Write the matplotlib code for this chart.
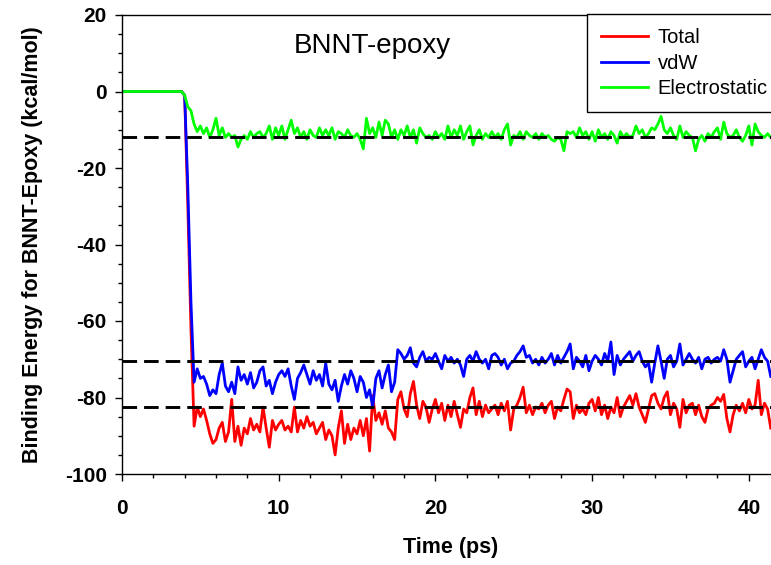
import numpy as np
import matplotlib
matplotlib.use("Agg")
import matplotlib.pyplot as plt
from matplotlib.ticker import MultipleLocator

plt.rcParams['font.family'] = ['Liberation Sans', 'DejaVu Sans']
plt.rcParams['axes.unicode_minus'] = False

t_step = 0.2  # ps between samples

total = [
    0, 0, 0, 0, 0, 0, 0, 0, 0, 0,
    0, 0, 0, 0, 0, 0, 0, 0, 0, 0,
    -1.0, -30.0, -62.0, -87.5, -82.5,
    -85.0, -83.0, -86.0, -89.5, -92.0, -91.0, -88.0, -86.5, -91.5, -89.0,
    -80.5, -91.5, -87.5, -92.5, -88.0, -89.5, -85.5, -88.5, -87.0, -89.0,
    -82.5, -88.0, -93.0, -86.0, -88.5, -87.0, -86.0, -88.5, -87.5, -89.0,
    -82.5, -89.0, -86.0, -88.0, -85.0, -87.5, -86.5, -89.5, -88.0, -86.5,
    -91.0, -88.5, -90.0, -95.0, -88.0, -83.5, -92.0, -87.0, -91.0, -88.0,
    -89.5, -86.0, -90.0, -85.5, -94.0, -79.5, -86.0, -84.0, -87.0, -83.5,
    -88.0, -89.0, -91.0,
    -80.5, -78.5, -83.0, -85.0, -79.0, -75.8, -82.0, -85.5, -81.0, -82.5,
    -86.5, -83.0, -80.5, -84.0, -81.5, -86.0, -82.0, -85.0, -81.0, -84.5,
    -87.8, -83.0, -84.0, -80.0, -77.5, -84.5, -81.0, -85.0, -82.0, -84.0,
    -83.0, -82.0, -84.5, -81.5, -83.5, -81.0, -88.5, -83.0, -82.0, -80.0,
    -77.3, -84.0, -82.0, -84.5, -82.5, -83.0, -81.5, -84.0, -82.0, -81.0,
    -85.5, -82.5, -83.5, -80.5, -77.8, -78.5, -85.5, -82.0, -84.0, -83.0,
    -84.5, -81.5, -80.5, -83.5, -80.0, -84.5, -82.0, -85.5, -82.5, -84.0,
    -80.0, -85.0, -82.5, -81.0, -79.5, -82.0, -79.0, -82.5, -84.5, -86.5,
    -83.0, -79.5, -79.0, -81.5, -83.0, -80.0, -78.5, -84.5, -81.5, -83.0,
    -87.8, -80.5, -84.0, -82.0, -81.5, -84.5, -82.0, -85.0, -86.5, -83.0,
    -82.0, -81.5, -80.0, -81.0, -79.2, -85.5, -89.0, -84.5, -82.0, -83.5,
    -81.5, -84.0, -80.5, -83.0, -82.0, -75.5, -84.5, -81.5, -83.0, -88.0,
]

vdw = [
    0, 0, 0, 0, 0, 0, 0, 0, 0, 0,
    0, 0, 0, 0, 0, 0, 0, 0, 0, 0,
    -1.0, -25.0, -55.0, -76.0, -72.5,
    -75.0, -74.5, -76.5, -79.5, -78.0, -79.0, -74.0, -71.0, -77.0, -78.5,
    -76.0, -79.0, -72.0, -75.5, -74.0, -76.5, -73.5, -77.5, -76.0, -73.0,
    -72.0, -77.0, -75.5, -79.0, -76.0, -74.0, -73.0, -74.5, -72.5, -77.0,
    -80.5, -75.0, -73.5, -71.5, -74.0, -76.5, -73.0, -75.5, -74.0, -77.0,
    -71.0, -76.5, -78.0, -75.5, -81.0, -77.0, -74.0, -76.5, -73.0, -75.0,
    -78.5, -74.5, -76.0, -80.0, -78.0, -82.5, -75.0, -73.0, -77.5, -74.0,
    -71.5, -78.5, -76.0,
    -67.5, -68.5, -70.0, -69.0, -67.0, -71.0, -72.0, -69.5, -68.0, -70.5,
    -69.5, -70.0, -68.5, -70.5, -72.5, -69.0, -70.5, -69.5, -71.0, -70.0,
    -71.5, -74.5, -70.0, -69.0, -70.5, -68.0, -70.0, -71.0, -70.0, -72.5,
    -69.0, -68.5, -69.5, -71.5, -70.0, -72.5, -71.0, -70.5, -69.0, -68.0,
    -66.5, -69.5, -69.0, -71.0, -70.0, -71.5, -69.5, -71.0, -70.0, -68.5,
    -71.5, -69.0, -71.0, -69.5, -68.0, -66.0, -72.5, -69.5, -70.5, -72.0,
    -69.0, -73.0, -70.5, -69.0, -70.0, -71.5, -68.5, -70.5, -65.5, -74.0,
    -69.0, -71.5, -70.0, -69.0, -68.0, -70.5, -69.0, -68.0, -70.5, -72.0,
    -71.0, -76.0, -71.0, -66.5, -70.5, -75.0, -70.0, -69.0, -72.0, -70.5,
    -66.0, -71.5, -70.0, -68.5, -70.0, -71.0, -69.5, -72.5, -70.0, -69.5,
    -71.0, -70.0, -69.5, -70.5, -67.5, -70.0, -76.0, -73.0, -70.0, -69.0,
    -68.0, -72.0, -70.5, -69.5, -72.5, -70.0, -67.5, -69.5, -70.5, -74.5,
]

electrostatic = [
    0, 0, 0, 0, 0, 0, 0, 0, 0, 0,
    0, 0, 0, 0, 0, 0, 0, 0, 0, 0,
    -1.0, -4.0, -5.0, -8.5, -10.5,
    -9.0, -11.0, -9.5, -12.0, -10.0, -7.0, -11.5, -9.5, -12.0, -11.0,
    -12.0, -11.5, -14.5, -12.5, -11.5, -12.5, -10.5, -12.0, -11.0, -10.5,
    -12.0, -11.0, -9.0, -12.5, -9.5, -11.5, -9.0, -12.5, -10.0, -7.5,
    -11.0, -9.5, -12.0, -10.5, -12.5, -10.0, -11.5, -12.0, -9.5, -11.5,
    -10.0, -11.5, -9.5, -12.5, -10.5, -11.0, -12.0, -10.0, -11.5, -12.0,
    -11.0, -12.5, -15.0, -7.0, -11.0, -9.5, -12.0, -8.0, -11.5, -7.5,
    -8.5, -12.0, -10.0,
    -12.5, -10.0, -11.5, -9.0, -12.0, -10.0, -13.5, -9.5, -11.0, -12.0,
    -11.5, -12.5, -10.5, -12.0, -11.0, -12.5, -9.0, -12.0, -10.0, -11.5,
    -9.0, -12.5, -10.5, -9.0, -14.0, -11.5, -10.0, -12.5, -11.0, -12.0,
    -10.5, -12.0, -11.0, -12.5, -10.0, -8.5, -14.0, -11.5, -12.0, -10.5,
    -12.5, -10.5, -11.5, -12.0, -11.0, -12.5, -11.0, -12.0, -11.5, -12.5,
    -13.0, -12.0, -12.5, -15.5, -10.5, -11.0, -10.5, -12.0, -9.5, -11.5,
    -10.5, -12.5, -10.5, -13.0, -10.0, -12.0, -11.0, -12.5, -10.5, -11.5,
    -13.5, -10.5, -12.0, -11.0, -12.0, -11.5, -9.0, -11.0, -10.0, -12.0,
    -11.0, -9.5, -10.0, -8.5, -6.5, -10.0, -11.0, -9.5, -11.5, -12.5,
    -9.0, -12.0, -10.5, -11.5, -12.0, -15.5, -12.5, -11.5, -13.0, -11.0,
    -12.0, -10.5, -9.5, -12.5, -8.0, -11.0, -12.0, -11.5, -10.0, -12.0,
    -13.0, -11.5, -9.0, -14.0, -8.5, -10.5, -11.5, -12.0, -11.0, -12.0,
]

series_labels = ["Total", "vdW", "Electrostatic"]
series_colors = ["#ff0000", "#0000ff", "#00ff00"]
reference_levels = [-12.0, -70.5, -82.5]

time = np.round(np.arange(len(total)) * t_step, 1)

W, H = 771, 565
fig = plt.figure(figsize=(W / 100, H / 100), dpi=100)
ax_left, ax_bottom_px, ax_top_px = 122, 474, 15
px_per_unit = 15.67
x_max = 44.0
ax = fig.add_axes([ax_left / W, 1 - ax_bottom_px / H,
                   x_max * px_per_unit / W, (ax_bottom_px - ax_top_px) / H])

for y, lab, col in zip([total, vdw, electrostatic], series_labels, series_colors):
    ax.plot(time, y, color=col, lw=2.0, label=lab, solid_joinstyle='round')

for lvl in reference_levels:
    ax.axhline(lvl, color='black', lw=2.1, dashes=(5.0, 2.4), zorder=5)

ax.set_xlim(0, x_max)
ax.set_ylim(-100, 20)
ax.xaxis.set_major_locator(MultipleLocator(10))
ax.xaxis.set_minor_locator(MultipleLocator(2))
ax.yaxis.set_major_locator(MultipleLocator(20))
ax.yaxis.set_minor_locator(MultipleLocator(5))
ax.tick_params(which='major', direction='out', length=5, width=1.0, labelsize=15, pad=6)
ax.tick_params(which='minor', direction='out', length=3, width=1.0)
ax.tick_params(axis='x', which='major', pad=13)
for lbl in ax.get_xticklabels() + ax.get_yticklabels():
    lbl.set_fontweight('bold')
ax.spines['right'].set_visible(False)
for s in ['left', 'bottom', 'top']:
    ax.spines[s].set_linewidth(1.0)

ax.text(16.0, 12.0, "BNNT-epoxy", fontsize=20, ha='center', va='center')

fig.text(33 / W, 1 - 244.5 / H, "Binding Energy for BNNT-Epoxy (kcal/mol)",
         rotation=90, ha='center', va='center', fontsize=15.5, fontweight='bold')
fig.text(451 / W, 1 - 548 / H, "Time (ps)", ha='center', va='center',
         fontsize=15.5, fontweight='bold')

leg = fig.legend(loc='upper left', bbox_to_anchor=(587 / W, 1 - 14 / H),
                 frameon=True, fancybox=False, framealpha=1, edgecolor='black',
                 fontsize=14.5, handlelength=2.35, handletextpad=0.45,
                 borderpad=0.7, labelspacing=0.33, borderaxespad=0)
leg.get_frame().set_linewidth(1.0)
for line in leg.get_lines():
    line.set_linewidth(2.0)

fig.savefig("out.png", dpi=100)
